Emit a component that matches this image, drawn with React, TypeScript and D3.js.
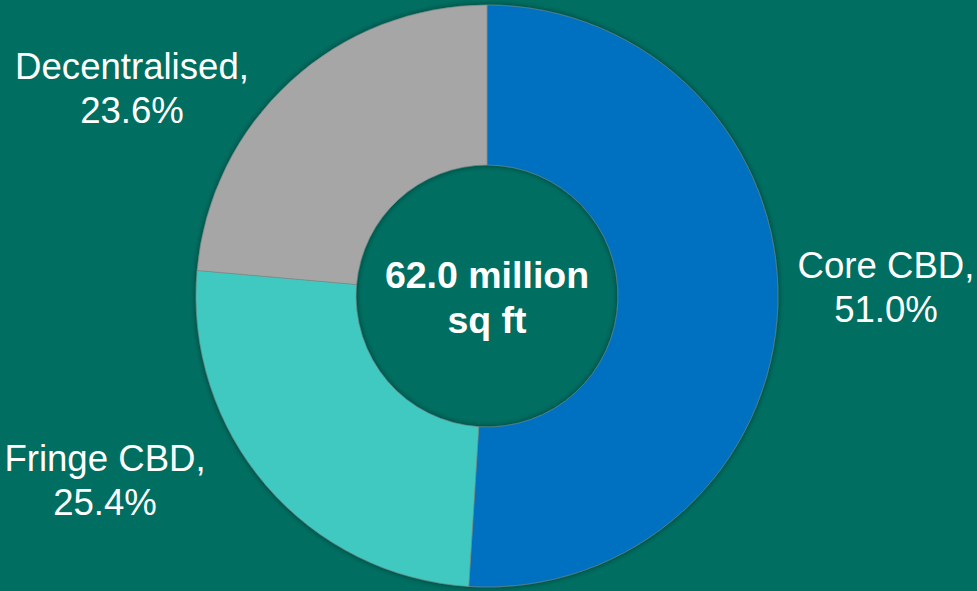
import React from "react";
import * as d3 from "d3";

const categories = ["Core CBD", "Fringe CBD", "Decentralised"];
const shares = [51.0, 25.4, 23.6];
const colors = ["#0070C0", "#41C9C0", "#A6A6A6"];
const centerLines = ["62.0 million", "sq ft"];

const W = 977;
const H = 591;
const cx = 487;
const cy = 296;
const outerR = 291;
const innerR = 131;

const labelPos: { x: number; y: number }[] = [
  { x: 886, y: 278 },
  { x: 105, y: 471 },
  { x: 132, y: 79 },
];

export default function App() {
  const pie = d3.pie<number>().sort(null).value((d) => d).startAngle(0).endAngle(2 * Math.PI);
  const arcs = pie(shares);
  const arcGen = d3.arc<d3.PieArcDatum<number>>().innerRadius(innerR).outerRadius(outerR);
  const font = "'Liberation Sans', Arial, sans-serif";
  return (
    <svg
      width={W}
      height={H}
      style={{ position: "fixed", left: 0, top: 0, display: "block" }}
    >
      <defs>
        <filter id="sh" x="-20%" y="-20%" width="140%" height="140%">
          <feDropShadow dx="0" dy="0" stdDeviation="3" floodColor="#000" floodOpacity="0.45" />
        </filter>
      </defs>
      <rect width={W} height={H} fill="#006F62" />
      <g transform={`translate(${cx},${cy})`}>
        <g filter="url(#sh)">
          {arcs.map((a, i) => (
            <path key={i} d={arcGen(a) || ""} fill={colors[i]} stroke="#7a8a88" strokeWidth={0.6} />
          ))}
        </g>
        <text
          textAnchor="middle"
          fontFamily={font}
          fontWeight="bold"
          fontSize={37.5}
          fill="#fff"
        >
          <tspan x={0} y={-8}>{centerLines[0]}</tspan>
          <tspan x={0} y={37}>{centerLines[1]}</tspan>
        </text>
      </g>
      {categories.map((c, i) => (
        <text key={c} textAnchor="middle" fontFamily={font} fontSize={36.6} fill="#fff">
          <tspan x={labelPos[i].x} y={labelPos[i].y}>{c},</tspan>
          <tspan x={labelPos[i].x} y={labelPos[i].y + 44}>{shares[i].toFixed(1)}%</tspan>
        </text>
      ))}
    </svg>
  );
}
